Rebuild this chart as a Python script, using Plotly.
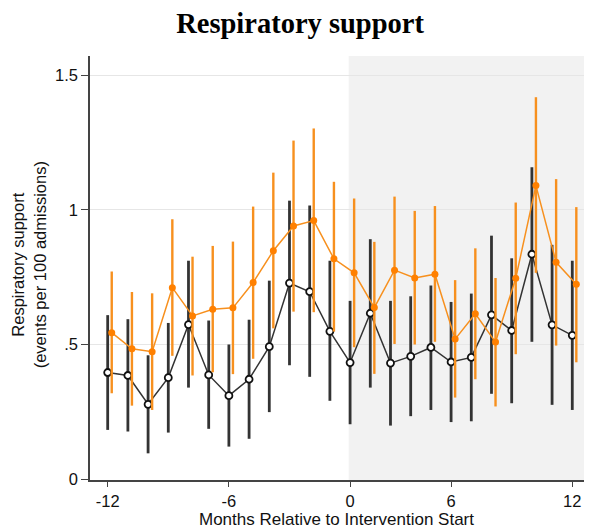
import plotly.graph_objects as go

# Months relative to intervention start, as plotted (sequential positions)
months = [-12, -11, -10, -9, -8, -7, -6, -5, -4, -3, -2, -1,
          0, 1, 2, 3, 4, 5, 6, 7, 8, 9, 10, 11]

# Black series (hollow markers)
black_y = [0.396, 0.385, 0.278, 0.377, 0.574, 0.387, 0.310, 0.371, 0.492, 0.728, 0.696, 0.549,
           0.433, 0.616, 0.431, 0.456, 0.489, 0.435, 0.452, 0.610, 0.552, 0.835, 0.573, 0.534]
black_hi = [0.609, 0.594, 0.460, 0.580, 0.811, 0.589, 0.500, 0.592, 0.737, 1.034, 1.016, 0.811,
            0.662, 0.891, 0.662, 0.679, 0.719, 0.658, 0.689, 0.904, 0.820, 1.158, 0.870, 0.811]
black_lo = [0.183, 0.177, 0.096, 0.173, 0.340, 0.187, 0.121, 0.150, 0.249, 0.423, 0.380, 0.291,
            0.204, 0.340, 0.199, 0.234, 0.257, 0.212, 0.215, 0.317, 0.282, 0.510, 0.276, 0.257]

# Orange series (filled markers)
orange_y = [0.544, 0.484, 0.473, 0.711, 0.606, 0.631, 0.636, 0.730, 0.848, 0.940, 0.960, 0.818,
            0.766, 0.637, 0.776, 0.747, 0.761, 0.520, 0.614, 0.509, 0.746, 1.090, 0.805, 0.724]
orange_hi = [0.771, 0.695, 0.690, 0.965, 0.826, 0.866, 0.882, 1.012, 1.138, 1.257, 1.302, 1.104,
             1.042, 0.881, 1.049, 0.996, 1.014, 0.739, 0.857, 0.747, 1.027, 1.418, 1.114, 1.010]
orange_lo = [0.319, 0.273, 0.257, 0.458, 0.385, 0.397, 0.390, 0.447, 0.560, 0.622, 0.620, 0.548,
             0.490, 0.391, 0.502, 0.500, 0.510, 0.303, 0.371, 0.270, 0.464, 0.766, 0.496, 0.434]

x_tickvals = [-12, -6, 0, 5, 11]
x_ticktext = ["-12", "-6", "0", "6", "12"]
y_tickvals = [0, 0.5, 1, 1.5]
y_ticktext = ["0", ".5", "1", "1.5"]

orange_offset = 0.2
BLACK = "#333333"
ORANGE = "#f7901e"

fig = go.Figure()

fig.add_trace(go.Scatter(
    x=months, y=black_y, mode="lines+markers",
    line=dict(color=BLACK, width=1.5),
    marker=dict(symbol="circle", size=7, color="white", line=dict(color="#111111", width=1.8)),
    error_y=dict(type="data", symmetric=False,
                 array=[h - v for h, v in zip(black_hi, black_y)],
                 arrayminus=[v - l for v, l in zip(black_y, black_lo)],
                 color=BLACK, thickness=2.8, width=0),
    showlegend=False,
))

fig.add_trace(go.Scatter(
    x=[m + orange_offset for m in months], y=orange_y, mode="lines+markers",
    line=dict(color=ORANGE, width=1.5),
    marker=dict(symbol="circle", size=7, color="#ff8000"),
    error_y=dict(type="data", symmetric=False,
                 array=[h - v for h, v in zip(orange_hi, orange_y)],
                 arrayminus=[v - l for v, l in zip(orange_y, orange_lo)],
                 color=ORANGE, thickness=2.4, width=0),
    showlegend=False,
))

fig.add_shape(type="rect", xref="x", yref="paper", x0=-0.07, x1=11.58, y0=0, y1=1,
              fillcolor="#f2f2f2", line=dict(width=0), layer="below")

fig.update_layout(
    width=605, height=529,
    margin=dict(l=90, r=21, t=56, b=49),
    paper_bgcolor="white", plot_bgcolor="white",
    font=dict(family="Liberation Sans, Arial, sans-serif", size=16, color="#111111"),
    title=dict(text="<b>Respiratory support</b>", x=0.496, xanchor="center",
               y=0.9565, yanchor="middle",
               font=dict(family="Liberation Serif, Times New Roman, serif", size=28.5, color="black")),
    xaxis=dict(range=[-12.876, 11.58], tickvals=x_tickvals, ticktext=x_ticktext,
               showgrid=False, zeroline=False, showline=True, linecolor="#444444", linewidth=1.5,
               ticks="outside", ticklen=5, tickwidth=1.2, tickcolor="#444444",
               tickfont=dict(size=16.5)),
    yaxis=dict(range=[-0.003, 1.571], tickvals=y_tickvals, ticktext=y_ticktext,
               showgrid=True, gridcolor="#e6e6e6", gridwidth=1, zeroline=False,
               showline=True, linecolor="#444444", linewidth=1.5,
               ticks="outside", ticklen=7, tickwidth=1.2, tickcolor="#444444",
               tickfont=dict(size=16.5)),
    annotations=[
        dict(text="Months Relative to Intervention Start", xref="paper", yref="paper",
             x=0.499, y=-0.093, xanchor="center", yanchor="middle", showarrow=False,
             font=dict(size=17)),
        dict(text="Respiratory support<br>(events per 100 admissions)", xref="paper", yref="paper",
             x=-0.124, y=0.508, xanchor="center", yanchor="middle", showarrow=False,
             textangle=-90, font=dict(size=16.5)),
    ],
)

fig.write_html("out.html")
